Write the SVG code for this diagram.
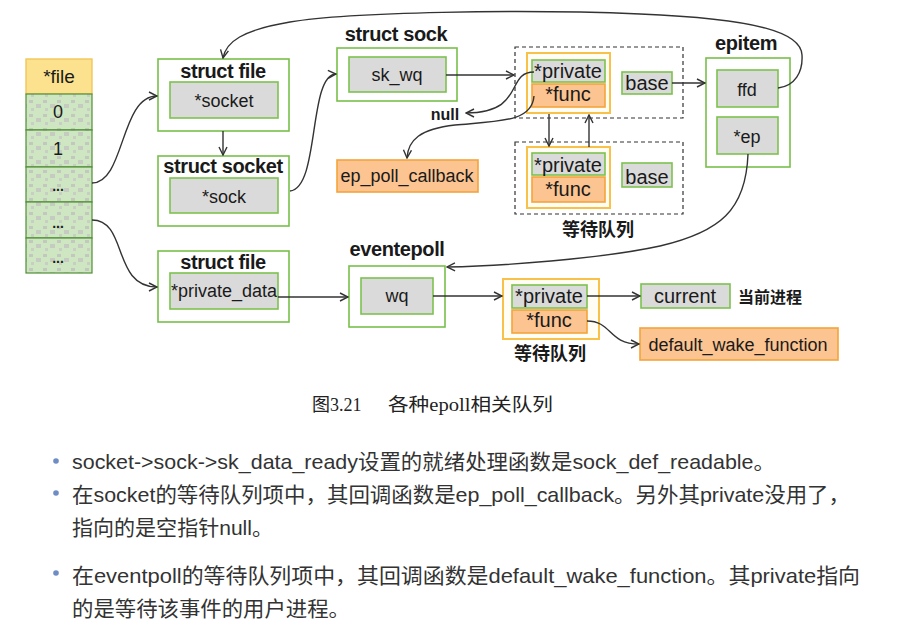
<svg xmlns="http://www.w3.org/2000/svg" width="923" height="631" viewBox="0 0 923 631">
<style>
.t{font-family:"Liberation Sans",Arial,"Noto Sans CJK SC",sans-serif;fill:#1a1a1a;text-anchor:middle}
.title{font-size:20px;font-weight:bold;letter-spacing:-0.4px}
.lbl{font-size:18px}
.q{font-size:20px}
.cn{font-family:"Noto Sans CJK SC",sans-serif;font-weight:bold;fill:#1a1a1a;text-anchor:middle}
.outer{fill:#ffffff;stroke:#78c04a;stroke-width:1.6}
.inner{fill:#dadada;stroke:#7cc24e;stroke-width:1.6}
.orange{fill:#fbc491;stroke:#f4a43a;stroke-width:1.6}
.qbox{fill:#fffdf4;stroke:#f8c24a;stroke-width:2}
.dash{fill:none;stroke:#333;stroke-width:1.2;stroke-dasharray:4 3}
.cell{fill:url(#noise);stroke:#4f8f35;stroke-width:1.2}
.conn path{fill:none;stroke:#333;stroke-width:1.4;marker-end:url(#arr)}
.body{font-family:"Liberation Sans",Arial,"Noto Sans CJK SC",sans-serif;font-size:21px;fill:#333}
.cap{font-family:"Liberation Serif","Times New Roman","Noto Sans CJK SC",serif;font-size:18px;fill:#222}
</style>
<defs>
<marker id="arr" viewBox="0 0 10 10" refX="9" refY="5" markerWidth="10" markerHeight="10" orient="auto" markerUnits="userSpaceOnUse">
<path d="M1,1 L9,5 L1,9" fill="none" stroke="#333" stroke-width="1.4"/>
</marker>
<pattern id="noise" width="14" height="14" patternUnits="userSpaceOnUse">
<rect width="14" height="14" fill="#cfe6c2"/>
<rect x="1" y="2" width="4" height="3" fill="#c3c8bf"/>
<rect x="8" y="6" width="5" height="4" fill="#c6cbc2"/>
<rect x="3" y="10" width="3" height="3" fill="#c9cec5"/>
</pattern>
</defs>
<rect width="923" height="631" fill="#ffffff"/>

<g id="fd-table">
<rect x="26" y="59" width="66" height="35" fill="#fce28e" stroke="#f3c75a" stroke-width="1.4"/>
<text class="t lbl" x="59" y="83" style="font-size:19px">*file</text>
<rect class="cell" x="26" y="94" width="66" height="36"/>
<text class="t lbl" x="58" y="118">0</text>
<rect class="cell" x="26" y="130" width="66" height="37"/>
<text class="t lbl" x="58" y="155">1</text>
<rect class="cell" x="26" y="167" width="66" height="35"/>
<text class="t" x="58" y="191" style="font-size:14px;font-weight:bold">...</text>
<rect class="cell" x="26" y="202" width="66" height="36"/>
<text class="t" x="58" y="228" style="font-size:14px;font-weight:bold">...</text>
<rect class="cell" x="26" y="238" width="66" height="35"/>
<text class="t" x="58" y="263" style="font-size:14px;font-weight:bold">...</text>
</g>

<g id="struct-file-1">
<rect class="outer" x="158" y="59" width="131" height="72"/>
<text class="t title" x="223" y="78">struct file</text>
<rect class="inner" x="170" y="82" width="108" height="36"/>
<text class="t lbl" x="224" y="107">*socket</text>
</g>

<g id="struct-socket">
<rect class="outer" x="158" y="156" width="131" height="70"/>
<text class="t title" x="223" y="173">struct socket</text>
<rect class="inner" x="170" y="178" width="108" height="35"/>
<text class="t lbl" x="224" y="203">*sock</text>
</g>

<g id="struct-sock">
<text class="t title" x="396" y="41">struct sock</text>
<rect class="outer" x="337" y="48" width="120" height="53"/>
<rect class="inner" x="349" y="57" width="97" height="35"/>
<text class="t lbl" x="397" y="81">sk_wq</text>
</g>

<g id="null-label">
<text class="t" x="445" y="120" style="font-size:16px;font-weight:bold">null</text>
</g>

<g id="ep-poll-callback">
<rect class="orange" x="337" y="160" width="141" height="32"/>
<text class="t lbl" x="407" y="182">ep_poll_callback</text>
</g>

<g id="wait-queue-1">
<rect class="dash" x="515" y="47" width="168" height="71"/>
<rect class="qbox" x="527" y="53" width="83" height="60"/>
<rect class="inner" x="532" y="60" width="73" height="22"/>
<text class="t q" x="568" y="78">*private</text>
<rect class="orange" x="532" y="84" width="73" height="23"/>
<text class="t q" x="568" y="101">*func</text>
<rect class="inner" x="622" y="72" width="50" height="22"/>
<text class="t q" x="647" y="90">base</text>
</g>

<g id="wait-queue-2">
<rect class="dash" x="515" y="142" width="168" height="72"/>
<rect class="qbox" x="527" y="147" width="83" height="61"/>
<rect class="inner" x="532" y="153" width="73" height="22"/>
<text class="t q" x="568" y="172">*private</text>
<rect class="orange" x="532" y="177" width="73" height="25"/>
<text class="t q" x="568" y="196">*func</text>
<rect class="inner" x="622" y="163" width="50" height="24"/>
<text class="t q" x="647" y="184">base</text>
<text class="cn" x="598" y="236" style="font-size:18px">等待队列</text>
</g>

<g id="epitem">
<text class="t title" x="746" y="50">epitem</text>
<rect class="outer" x="706" y="58" width="84" height="109"/>
<rect class="inner" x="717" y="70" width="61" height="37"/>
<text class="t lbl" x="747" y="96">ffd</text>
<rect class="inner" x="717" y="117" width="61" height="37"/>
<text class="t lbl" x="747" y="143">*ep</text>
</g>

<g id="struct-file-2">
<rect class="outer" x="158" y="251" width="131" height="71"/>
<text class="t title" x="223" y="269">struct file</text>
<rect class="inner" x="170" y="273" width="108" height="36"/>
<text class="t lbl" x="224" y="297">*private_data</text>
</g>

<g id="eventepoll">
<text class="t title" x="397" y="256">eventepoll</text>
<rect class="outer" x="349" y="266" width="96" height="61"/>
<rect class="inner" x="361" y="278" width="72" height="36"/>
<text class="t lbl" x="397" y="302">wq</text>
</g>

<g id="wait-queue-3">
<rect class="qbox" x="503" y="279" width="96" height="60"/>
<rect class="inner" x="512" y="285" width="75" height="23"/>
<text class="t q" x="549" y="303">*private</text>
<rect class="orange" x="512" y="310" width="75" height="23"/>
<text class="t q" x="549" y="327">*func</text>
<text class="cn" x="550" y="360" style="font-size:18px">等待队列</text>
</g>

<g id="current">
<rect class="inner" x="641" y="284" width="89" height="24"/>
<text class="t q" x="685" y="303">current</text>
<text class="cn" x="770" y="303" style="font-size:16px">当前进程</text>
</g>

<g id="default-wake-function">
<rect class="orange" x="640" y="328" width="198" height="32"/>
<text class="t lbl" x="738" y="351">default_wake_function</text>
</g>

<g id="connectors" class="conn">
<path d="M92,183 C125,183 120,96 157,96"/>
<path d="M92,220 C128,220 112,287 157,287"/>
<path d="M223,131 L223,155"/>
<path d="M290,191 C320,188 308,75 336,74"/>
<path d="M446,75 L514,75"/>
<path d="M534,72 C505,72 526,113 466,113"/>
<path d="M534,96 C532,122 500,121 455,125 C420,129 408,140 407,158"/>
<path d="M672,83 L705,83"/>
<path d="M549,114 L549,146"/>
<path d="M589,147 L589,115"/>
<path d="M778,88 C795,86 803,72 802,55 C801,33 760,19 640,14 C520,9 350,12 290,22 C242,30 226,42 223,58"/>
<path d="M748,154 C746,210 720,232 660,246 C600,259 500,266 447,267"/>
<path d="M278,297 L348,297"/>
<path d="M433,296 L502,296"/>
<path d="M587,296 L640,296"/>
<path d="M587,321 C612,321 608,344 639,344"/>
</g>

<g id="caption">
<text class="cap" x="312" y="411">图3.21</text>
<text class="cap" x="388" y="411" textLength="165" lengthAdjust="spacingAndGlyphs">各种epoll相关队列</text>
</g>

<g id="notes">
<circle cx="56" cy="461" r="2.8" fill="#6f8cc4"/>
<text class="body" x="72" y="469" textLength="703" lengthAdjust="spacingAndGlyphs">socket-&gt;sock-&gt;sk_data_ready设置的就绪处理函数是sock_def_readable。</text>
<circle cx="56" cy="493" r="2.8" fill="#6f8cc4"/>
<text class="body" x="72" y="502" textLength="778" lengthAdjust="spacingAndGlyphs">在socket的等待队列项中，其回调函数是ep_poll_callback。另外其private没用了，</text>
<text class="body" x="72" y="535" textLength="201" lengthAdjust="spacingAndGlyphs">指向的是空指针null。</text>
<circle cx="56" cy="573" r="2.8" fill="#6f8cc4"/>
<text class="body" x="72" y="583" textLength="788" lengthAdjust="spacingAndGlyphs">在eventpoll的等待队列项中，其回调函数是default_wake_function。其private指向</text>
<text class="body" x="72" y="616" textLength="278" lengthAdjust="spacingAndGlyphs">的是等待该事件的用户进程。</text>
</g>
</svg>
